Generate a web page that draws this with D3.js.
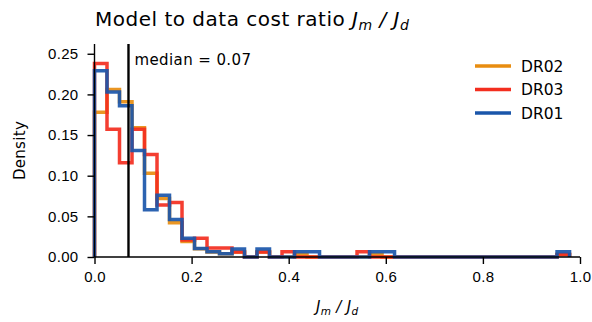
<!DOCTYPE html>
<html>
<head>
<meta charset="utf-8">
<script src="https://cdn.jsdelivr.net/npm/d3@7/dist/d3.min.js"></script>
<style>
  body { margin: 0; background: #fff; }
  svg { display: block; font-family: "DejaVu Sans", sans-serif; }
  .axis text { font-size: 15px; fill: #000; letter-spacing: 0.3px; }
  .axis path, .axis line { stroke: #000; stroke-width: 1.4; }
</style>
</head>
<body>
<svg id="chart" width="592" height="322"></svg>
<script>
// histogram bins (same edges for all runs)
const binStart = 0;
const binWidth = 0.02575;

// bar heights per bin
const dr02 = [0.178, 0.206, 0.191, 0.159, 0.103, 0.072, 0.042, 0.019, 0.010, 0.006,
  0.004, 0.006, 0, 0.006, 0, 0, 0.003, 0, 0, 0,
  0, 0, 0.003, 0, 0, 0, 0, 0, 0, 0,
  0, 0, 0, 0, 0, 0, 0, 0.003];
const dr03 = [0.238, 0.157, 0.116, 0.157, 0.126, 0.064, 0.067, 0.021, 0.023, 0.011,
  0.011, 0.006, 0, 0.006, 0, 0.0065, 0, 0, 0, 0,
  0, 0.0065, 0, 0, 0, 0, 0, 0, 0, 0,
  0, 0, 0, 0, 0, 0, 0, 0.003];
const dr01 = [0.229, 0.203, 0.186, 0.131, 0.058, 0.076, 0.046, 0.023, 0.0105, 0.0065,
  0.004, 0.0098, 0, 0.0098, 0, 0, 0.0065, 0.0065, 0, 0,
  0, 0, 0.0065, 0.0065, 0, 0, 0, 0, 0, 0,
  0, 0, 0, 0, 0, 0, 0, 0.0065];

const seriesNames = ['DR02', 'DR03', 'DR01'];
const seriesColors = ['#e88d10', '#f32e1f', '#1a56aa'];
const seriesValues = [dr02, dr03, dr01];

const median = 0.07;
const xTicks = [0, 0.2, 0.4, 0.6, 0.8, 1.0];
const yTicks = [0, 0.05, 0.10, 0.15, 0.20, 0.25];

const margin = { top: 44, left: 94.5, right: 12, bottom: 65 };
const width = 592 - margin.left - margin.right;
const height = 322 - margin.top - margin.bottom;

const svg = d3.select('#chart');
const g = svg.append('g').attr('transform', `translate(${margin.left},${margin.top})`);

const x = d3.scaleLinear().domain([0, 1]).range([0, width]);
const y = d3.scaleLinear().domain([0, 0.262]).range([height, 0]);

// step outlines, like matplotlib histtype='step'
const line = d3.line()
  .x(d => x(d[0]))
  .y(d => y(d[1]))
  .curve(d3.curveStepAfter);

seriesValues.forEach((vals, i) => {
  const pts = [[binStart, 0]];
  vals.forEach((v, k) => pts.push([binStart + k * binWidth, v]));
  pts.push([binStart + vals.length * binWidth, 0]);
  g.append('path')
    .datum(pts)
    .attr('d', line)
    .attr('fill', 'none')
    .attr('stroke', seriesColors[i])
    .attr('stroke-width', 3.5)
    .attr('stroke-opacity', 0.92)
    .attr('stroke-linejoin', 'miter');
});

// median marker
g.append('line')
  .attr('x1', x(median)).attr('x2', x(median))
  .attr('y1', y(0)).attr('y2', 0)
  .attr('stroke', '#000')
  .attr('stroke-width', 2.4);
g.append('text')
  .attr('x', x(median) + 6)
  .attr('y', 21)
  .attr('font-size', 15)
  .attr('letter-spacing', 0.4)
  .text('median = ' + median.toFixed(2));

// axes
const xAxis = g.append('g')
  .attr('class', 'axis')
  .attr('transform', `translate(0,${height})`)
  .call(d3.axisBottom(x).tickValues(xTicks).tickFormat(d3.format('.1f')).tickSizeOuter(0).tickSize(7).tickPadding(7));
const yAxis = g.append('g')
  .attr('class', 'axis')
  .call(d3.axisLeft(y).tickValues(yTicks).tickFormat(d3.format('.2f')).tickSizeOuter(0).tickSize(7).tickPadding(9));
xAxis.select('.domain').attr('d', `M0,0H${width}`);
yAxis.select('.domain').attr('d', `M0,${height}V0`);

// math-ish label: J_m / J_d
function ratioLabel(sel, size) {
  sel.append('tspan').attr('font-style', 'italic').text('J');
  sel.append('tspan').attr('font-style', 'italic').attr('font-size', size * 0.7).attr('dy', size * 0.22).text('m');
  sel.append('tspan').attr('font-style', 'italic').attr('dy', -size * 0.22).text(' / J');
  sel.append('tspan').attr('font-style', 'italic').attr('font-size', size * 0.7).attr('dy', size * 0.22).text('d');
}

// title
const title = svg.append('text')
  .attr('x', 95)
  .attr('y', 26)
  .attr('font-size', 20)
  .attr('letter-spacing', 0.5)
  .text('Model to data cost ratio ');
ratioLabel(title, 20);

// x label
const xl = svg.append('text')
  .attr('x', margin.left + x(0.5))
  .attr('y', 312)
  .attr('text-anchor', 'middle')
  .attr('font-size', 15)
  .attr('letter-spacing', 0.3);
ratioLabel(xl, 15);

// y label
svg.append('text')
  .attr('transform', `translate(25,${margin.top + height / 2}) rotate(-90)`)
  .attr('text-anchor', 'middle')
  .attr('font-size', 15)
  .attr('letter-spacing', 0.3)
  .text('Density');

// legend
const legend = svg.append('g').attr('transform', 'translate(475,66)');
seriesNames.forEach((name, i) => {
  const row = legend.append('g').attr('transform', `translate(0,${i * 23.5})`);
  row.append('line')
    .attr('x1', 0).attr('x2', 36)
    .attr('stroke', seriesColors[i])
    .attr('stroke-width', 3.5);
  row.append('text')
    .attr('x', 46)
    .attr('y', 5.5)
    .attr('font-size', 15.5)
    .text(name);
});
</script>
</body>
</html>
